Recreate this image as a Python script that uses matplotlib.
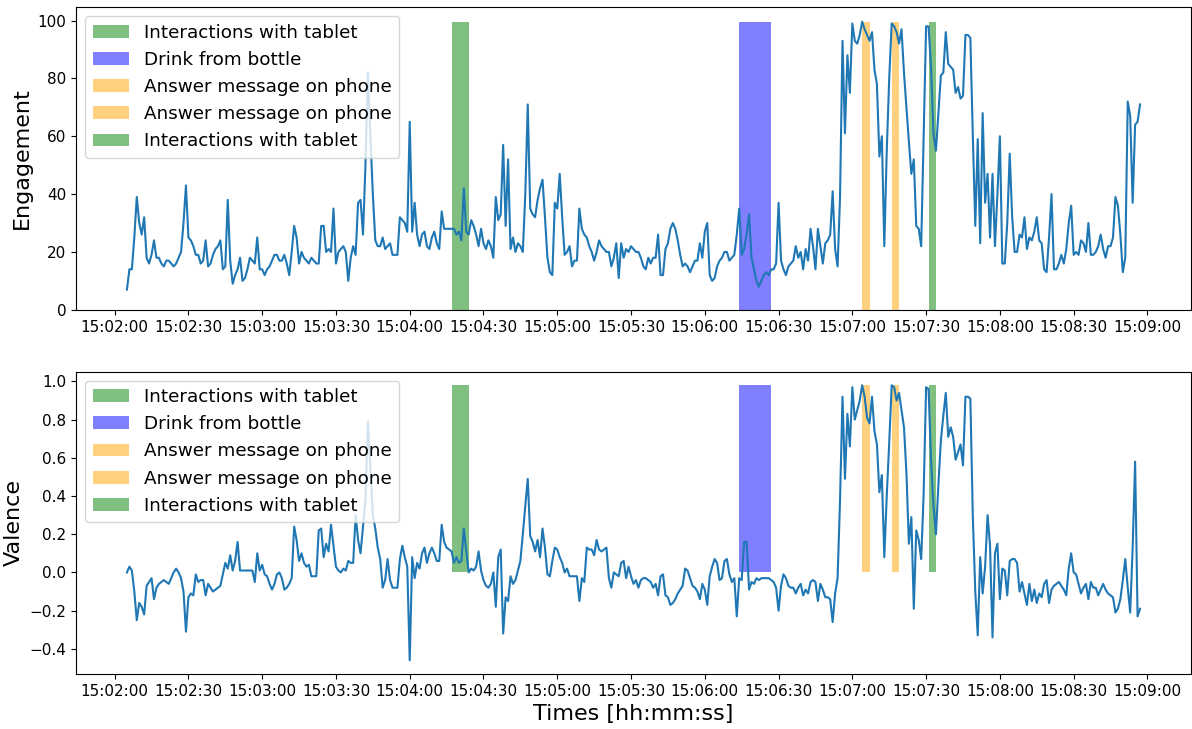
#! /usr/bin/env python
import matplotlib
matplotlib.use('Agg')
import matplotlib.pyplot as plt
import matplotlib.dates as mdates
import numpy as np
import pandas as pd

"""engagement and valence over the session, with annotated activities"""

start_time = '2021-06-15 15:02:05'

# one sample per second, starting at start_time
engagement = [
    7, 14, 14, 25, 39, 30, 26, 32, 18, 16,
    19, 24, 18, 18, 16, 15, 17, 17, 16, 15,
    16, 18, 20, 30, 43, 25, 24, 22, 19, 19,
    16, 17, 24, 15, 16, 19, 21, 22, 24, 14,
    15, 38, 17, 9, 12, 14, 18, 10, 11, 14,
    18, 17, 16, 25, 14, 14, 12, 14, 15, 17,
    19, 19, 17, 17, 19, 16, 12, 20, 29, 25,
    16, 20, 18, 17, 16, 18, 17, 16, 16, 29,
    29, 20, 21, 20, 35, 16, 20, 21, 22, 20,
    10, 18, 22, 19, 37, 38, 26, 50, 82, 60,
    40, 24, 22, 22, 25, 21, 22, 23, 19, 19,
    19, 32, 31, 30, 27, 65, 27, 37, 26, 22,
    26, 27, 22, 21, 25, 27, 23, 21, 34, 28,
    28, 28, 28, 28, 26, 27, 24, 42, 27, 26,
    31, 29, 26, 22, 28, 23, 21, 24, 22, 18,
    39, 31, 33, 57, 29, 52, 21, 25, 20, 23,
    22, 20, 40, 71, 35, 33, 32, 38, 42, 45,
    32, 18, 13, 12, 37, 35, 47, 32, 19, 20,
    22, 15, 17, 17, 35, 28, 26, 25, 22, 20,
    17, 20, 24, 22, 21, 20, 20, 15, 18, 23,
    11, 23, 18, 21, 20, 22, 21, 20, 20, 18,
    15, 14, 18, 16, 18, 18, 26, 12, 12, 21,
    23, 28, 30, 28, 24, 19, 15, 16, 15, 13,
    15, 17, 17, 23, 18, 27, 30, 12, 10, 11,
    15, 17, 18, 20, 20, 17, 18, 19, 26, 35,
    19, 21, 26, 33, 18, 14, 10, 8, 10, 12,
    13, 12, 14, 14, 16, 37, 17, 14, 12, 15,
    16, 17, 22, 18, 20, 14, 21, 17, 28, 22,
    14, 28, 22, 16, 23, 24, 26, 41, 21, 15,
    39, 93, 61, 88, 75, 99, 93, 92, 95, 99.6,
    97, 95, 93, 96, 83, 78, 53, 60, 22, 55,
    80, 99, 98, 96, 92, 97, 82, 70, 58, 47,
    52, 29, 28, 22, 60, 98, 98, 84, 61, 55,
    68, 81, 82, 96, 85, 84, 83, 75, 77, 73,
    74, 95, 95, 94, 60, 29, 59, 23, 68, 37,
    47, 25, 47, 22, 40, 60, 16, 16, 30, 54,
    32, 20, 20, 26, 25, 32, 21, 25, 24, 27,
    32, 24, 23, 14, 13, 25, 40, 14, 14, 16,
    19, 16, 21, 30, 36, 19, 20, 19, 24, 23,
    20, 30, 19, 19, 20, 22, 26, 21, 18, 22,
    22, 25, 39, 36, 26, 13, 18, 72, 67, 37,
    64, 65, 71]

valence = [
    0.00, 0.03, 0.01, -0.10, -0.25, -0.16, -0.18, -0.22, -0.07, -0.05,
    -0.03, -0.14, -0.08, -0.06, -0.05, -0.04, -0.05, -0.06, -0.03, 0.00,
    0.02, 0.00, -0.03, -0.10, -0.31, -0.13, -0.11, -0.12, -0.01, -0.05,
    -0.04, -0.04, -0.12, -0.06, -0.08, -0.10, -0.09, -0.08, -0.07, -0.01,
    0.05, 0.02, 0.09, 0.01, 0.06, 0.16, 0.01, 0.01, 0.01, 0.01,
    0.01, 0.01, -0.05, 0.10, 0.01, 0.04, -0.01, -0.02, -0.06, -0.09,
    -0.06, -0.01, 0.00, -0.03, -0.09, -0.08, -0.06, -0.03, 0.24, 0.17,
    0.06, 0.10, 0.05, 0.03, 0.04, -0.02, -0.02, -0.02, 0.22, 0.23,
    0.08, 0.15, 0.11, 0.25, 0.14, 0.03, 0.01, 0.00, 0.02, 0.01,
    0.06, 0.05, 0.05, 0.30, 0.17, 0.10, 0.24, 0.38, 0.79, 0.55,
    0.30, 0.23, 0.13, 0.07, -0.08, -0.04, 0.07, -0.04, -0.08, -0.08,
    -0.08, 0.07, 0.14, 0.08, 0.03, -0.46, 0.08, -0.03, 0.05, 0.02,
    0.10, 0.13, 0.05, 0.10, 0.13, 0.10, 0.06, 0.06, 0.25, 0.16,
    0.13, 0.12, 0.11, 0.05, 0.08, 0.05, 0.06, 0.23, 0.11, 0.00,
    0.02, 0.01, 0.03, 0.11, 0.01, -0.04, -0.07, -0.08, -0.06, 0.00,
    -0.18, 0.08, 0.12, -0.32, -0.13, -0.15, -0.02, -0.06, -0.04, 0.01,
    0.06, 0.20, 0.35, 0.49, 0.19, 0.16, 0.11, 0.17, 0.08, 0.23,
    0.13, -0.01, -0.02, 0.06, 0.13, 0.12, 0.08, 0.05, 0.00, 0.02,
    -0.02, -0.02, -0.02, -0.02, -0.15, -0.03, -0.05, 0.13, 0.12, 0.12,
    0.09, 0.17, 0.12, 0.11, 0.12, 0.13, -0.03, -0.08, 0.00, -0.01,
    -0.02, 0.05, 0.06, -0.03, 0.03, -0.02, -0.06, -0.04, -0.08, -0.04,
    -0.03, -0.03, -0.04, -0.05, -0.08, -0.06, -0.12, -0.02, -0.01, -0.12,
    -0.13, -0.17, -0.16, -0.14, -0.11, -0.09, -0.07, 0.02, 0.01, -0.03,
    -0.07, -0.08, -0.10, -0.14, -0.06, -0.09, -0.17, -0.02, 0.03, 0.07,
    0.05, -0.04, -0.03, 0.06, 0.07, -0.01, -0.05, -0.03, -0.23, -0.03,
    -0.04, 0.16, 0.16, -0.09, -0.05, -0.06, -0.03, -0.04, -0.03, -0.03,
    -0.03, -0.03, -0.04, -0.05, -0.08, -0.20, -0.07, -0.01, -0.03, -0.07,
    -0.08, -0.08, -0.11, -0.08, -0.06, -0.12, -0.09, -0.11, -0.05, -0.04,
    -0.05, -0.15, -0.06, -0.09, -0.13, -0.13, -0.14, -0.26, -0.11, -0.03,
    0.38, 0.92, 0.49, 0.83, 0.66, 0.97, 0.80, 0.85, 0.90, 0.98,
    0.92, 0.81, 0.78, 0.92, 0.74, 0.67, 0.42, 0.51, 0.08, 0.40,
    0.68, 0.98, 0.97, 0.90, 0.94, 0.85, 0.76, 0.52, 0.15, 0.29,
    -0.19, 0.22, 0.17, 0.07, 0.41, 0.97, 0.96, 0.59, 0.35, 0.20,
    0.46, 0.69, 0.82, 0.94, 0.71, 0.76, 0.71, 0.59, 0.63, 0.67,
    0.56, 0.92, 0.92, 0.91, 0.29, -0.10, -0.33, 0.08, -0.11, 0.03,
    0.30, 0.14, -0.34, 0.10, 0.15, -0.14, 0.02, 0.01, -0.12, 0.06,
    0.07, 0.07, 0.05, -0.10, -0.05, -0.11, -0.17, -0.06, -0.15, -0.09,
    -0.16, -0.11, -0.13, -0.06, -0.04, -0.16, -0.09, -0.07, -0.06, -0.05,
    -0.07, -0.09, -0.12, 0.02, 0.10, 0.00, -0.01, -0.06, -0.11, -0.08,
    -0.06, -0.14, -0.05, -0.08, -0.08, -0.12, -0.09, -0.06, -0.09, -0.11,
    -0.12, -0.13, -0.21, -0.19, -0.14, -0.04, 0.07, -0.08, -0.21, 0.13,
    0.58, -0.23, -0.19]

activity_labels = ['Interactions with tablet', 'Drink from bottle',
                   'Answer message on phone', 'Answer message on phone',
                   'Interactions with tablet']
activity_start = ['15:04:17', '15:06:14', '15:07:04', '15:07:16', '15:07:31']
activity_end = ['15:04:24', '15:06:27', '15:07:07', '15:07:19', '15:07:34']
activity_colors = ['green', 'blue', 'orange', 'orange', 'green']


def plotActivities(ax, height):
    """draw one bar per activity, from 0 up to height"""
    day = start_time.split()[0]
    for label, t0, t1, color in zip(activity_labels, activity_start,
                                    activity_end, activity_colors):
        x0 = mdates.date2num(pd.Timestamp(day + ' ' + t0))
        x1 = mdates.date2num(pd.Timestamp(day + ' ' + t1))
        ax.bar(x0, height, width=x1 - x0, align='edge', color=color,
               alpha=0.5, label=label)


if __name__ == '__main__':
    times = pd.date_range(start_time, periods=len(engagement), freq='s')
    times = mdates.date2num(times.to_pydatetime())
    engagement = np.array(engagement)
    valence = np.array(valence)

    plt.close('all')
    fig, (ax1, ax2) = plt.subplots(2, 1, figsize=(11.92, 7.29), dpi=100)
    fig.subplots_adjust(left=0.064, right=0.9989, top=0.99, bottom=0.0754,
                        hspace=0.204)

    for ax, data, name in [(ax1, engagement, 'Engagement'),
                           (ax2, valence, 'Valence')]:
        plotActivities(ax, data.max())
        ax.plot(times, data, color='C0', lw=1.5)
        ax.set_ylabel(name, fontsize=16)
        ax.xaxis.set_major_locator(mdates.SecondLocator(bysecond=[0, 30]))
        ax.xaxis.set_major_formatter(mdates.DateFormatter('%H:%M:%S'))
        ax.tick_params(labelsize=11)
        ax.legend(loc='upper left', fontsize=13.2)

    ax2.set_xlabel('Times [hh:mm:ss]', fontsize=16)
    plt.savefig('out.png', dpi=100)
